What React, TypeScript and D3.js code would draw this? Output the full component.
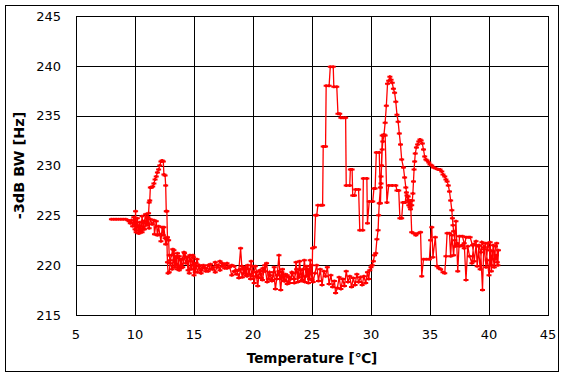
import React from "react";
import * as d3 from "d3";

type P = [number, number];

// Temperature [°C], -3dB BW [Hz] — heating pass
const heatStart: P[] = [
  [8.0,224.6],[8.2,224.6],[8.4,224.6],[8.6,224.6],[8.8,224.6],[9.0,224.6],[9.2,224.6],[9.4,224.5],[9.5,224.4],[9.6,224.2],
  [9.7,224.5],[9.8,223.9],[9.9,224.8],[10.0,223.6],[10.05,225.4],[10.1,223.3],[10.2,224.7],[10.3,223.2],[10.4,224.3],[10.5,223.4],
  [10.6,224.9],[10.7,223.6],[10.8,224.4],[10.9,225.1],[11.0,224.0],[11.1,224.8],[11.2,223.7],[11.3,224.6],[11.45,224.1],[11.6,224.5],
  [11.65,223.1],[11.8,224.4],[11.9,223.0],[12.0,223.9],[12.1,223.1],[12.2,222.4],[12.3,223.8],[12.4,223.0],[12.45,223.8],[12.55,222.7],
  [12.6,222.1],[12.7,222.6],[12.75,220.3],[12.8,219.2],[12.9,219.3],[13.0,220.5],
];

const heatPlateau: P[] = [
  [13.1,221.0],[13.2,221.6],[13.35,219.8],[13.5,220.9],[13.6,219.6],[13.75,220.9],[13.9,219.7],[14.0,220.6],[14.15,221.3],[14.3,220.2],
  [14.45,220.8],[14.6,219.2],[14.75,220.4],[14.9,221.0],[15.0,219.0],[15.15,220.2],[15.3,219.3],[15.45,220.0],[15.6,219.5],[15.8,220.0],
  [16.0,219.7],[16.2,219.4],[16.4,220.1],[16.6,219.6],[16.8,220.3],[17.0,219.8],[17.2,220.4],[17.4,219.9],[17.6,220.1],[17.8,219.7],
  [18.0,219.9],[18.2,219.0],[18.4,219.4],[18.6,219.1],[18.8,219.5],[18.95,221.7],[19.05,219.9],[19.2,219.2],[19.35,219.8],[19.5,218.9],
  [19.65,219.6],[19.8,218.6],[19.95,219.9],[20.1,218.2],[20.25,219.3],[20.4,217.9],[20.55,219.4],[20.7,218.7],[20.85,219.7],[21.0,219.4],
  [21.15,220.2],[21.3,218.6],[21.45,219.0],[21.6,218.4],[21.75,219.3],[21.9,217.6],[22.05,219.0],[22.2,221.0],[22.3,218.6],[22.45,219.3],
  [22.6,218.4],[22.75,219.1],[22.9,218.1],[23.05,218.8],[23.2,218.6],[23.35,219.2],[23.5,218.2],[23.65,220.3],[23.8,218.3],[23.95,220.4],
  [24.1,218.4],[24.25,219.6],[24.4,218.3],[24.55,219.9],[24.7,218.2],[24.85,220.5],[25.0,218.5],
];

const heatPeaks: P[] = [
  [25.05,221.7],[25.2,221.8],[25.3,225.0],[25.4,225.0],[25.5,226.0],[25.75,226.0],[25.9,226.0],[25.95,231.9],[26.15,231.9],[26.2,238.0],
  [26.45,238.0],[26.55,239.9],[26.8,239.9],[26.85,237.9],[27.1,237.9],[27.2,235.2],[27.35,235.2],[27.45,234.8],[27.65,234.8],[27.85,234.8],
  [27.9,228.0],[28.2,228.0],[28.25,229.6],[28.4,229.6],[28.45,227.0],[28.6,227.0],[28.7,227.6],[28.95,227.6],[29.05,223.5],[29.3,223.5],
  [29.35,228.7],[29.65,228.7],[29.7,224.2],[29.85,226.4],[30.15,226.4],[30.25,227.7],[30.35,227.7],[30.45,231.3],[30.7,231.3],[30.8,226.2],
  [30.85,228.2],[30.95,233.0],[31.2,233.0],[31.35,226.3],[31.5,228.0],[31.8,228.0],[32.1,228.0],[32.2,227.5],[32.35,227.5],[32.45,224.7],
  [32.6,224.7],[32.7,226.3],[32.9,226.3],[33.0,227.3],[33.1,226.5],[33.2,226.0],[33.3,225.8],[33.35,226.5],[33.45,223.3],[33.6,223.2],
  [33.8,223.0],[34.0,223.2],[34.2,223.3],[34.3,218.9],[34.45,220.6],[34.7,220.6],[34.95,220.6],[35.05,222.5],[35.15,223.8],[35.25,220.8],
  [35.45,222.8],[35.6,219.9],[35.75,219.7],[35.9,219.6],[36.1,219.3],[36.25,219.2],[36.35,220.9],[36.45,223.2],[36.65,223.2],[36.75,220.9],
  [36.85,223.0],[37.0,221.0],[37.2,224.4],[37.35,219.4],[37.5,222.9],[37.75,222.9],[37.9,222.2],[38.05,218.5],[38.2,221.9],[38.35,220.9],
  [38.55,220.2],[38.7,222.1],[38.9,222.4],[39.0,219.9],[39.15,222.0],[39.3,221.3],[39.45,217.5],[39.55,221.6],[39.7,222.2],[39.85,220.5],
  [40.0,219.0],[40.1,222.3],[40.2,220.0],[40.3,221.4],[40.45,219.8],[40.55,221.9],[40.65,222.2],[40.75,220.0],[40.8,221.5],
];

// cooling pass
const coolHigh: P[] = [
  [40.7,220.3],[40.6,221.0],[40.5,220.6],[40.35,222.0],[40.2,219.4],[40.05,221.5],[39.9,222.2],[39.75,219.8],[39.6,221.8],[39.4,222.3],
  [39.25,219.6],[39.1,221.9],[38.9,222.0],[38.75,220.4],[38.6,222.0],[38.4,222.8],[38.25,222.8],[38.05,222.8],[37.9,221.7],[37.7,222.0],
  [37.5,221.9],[37.3,222.2],[37.15,221.9],[37.1,222.5],[37.0,223.4],[36.95,224.0],[36.9,224.7],[36.85,225.5],[36.75,226.5],[36.65,227.4],
  [36.55,228.0],[36.45,228.4],[36.35,228.6],[36.25,228.9],[36.1,229.1],[36.0,229.4],[35.85,229.6],[35.7,229.6],[35.5,229.7],[35.3,229.8],
  [35.15,230.0],[35.0,230.1],[34.9,230.3],[34.75,230.5],[34.65,230.6],[34.55,230.9],[34.45,231.6],[34.35,232.2],[34.25,232.5],[34.15,232.6],
  [34.05,232.4],[33.95,232.1],[33.85,231.8],[33.75,231.2],[33.7,230.4],[33.65,229.6],[33.6,228.4],[33.55,227.2],[33.5,226.5],[33.45,226.0],
  [33.35,225.6],[33.25,226.4],[33.15,226.9],[33.05,227.0],[32.95,227.8],[32.85,228.8],[32.75,229.8],[32.6,230.6],[32.5,232.1],[32.4,233.2],
  [32.3,234.4],[32.2,235.1],[32.1,236.4],[32.0,237.3],[31.9,237.7],[31.8,238.3],[31.7,238.6],[31.6,238.9],[31.5,238.5],[31.4,238.2],
  [31.3,236.0],[31.2,234.3],[31.1,233.1],[31.0,232.4],[30.95,231.6],[30.9,230.0],[30.85,228.9],[30.8,227.8],[30.7,226.2],[30.65,225.0],
  [30.6,223.5],[30.5,222.6],[30.4,221.2],[30.3,221.0],[30.2,220.4],[30.1,220.0],[30.0,219.8],
];

const coolLow: P[] = [
  [29.9,219.5],[29.8,218.6],[29.7,219.3],[29.55,218.2],[29.4,218.9],[29.25,218.0],[29.1,218.8],[28.95,218.3],[28.8,219.1],[28.65,218.0],
  [28.5,218.7],[28.35,217.8],[28.2,218.9],[28.05,218.3],[27.9,219.4],[27.75,217.9],[27.6,218.6],[27.45,217.6],[27.3,218.8],[27.15,217.7],
  [27.0,217.2],[26.9,218.4],[26.75,217.8],[26.6,219.0],[26.45,218.1],[26.3,219.8],[26.15,218.9],[26.0,219.4],[25.85,218.0],[25.7,219.6],
  [25.55,218.4],[25.4,220.0],[25.25,219.2],[25.1,218.3],[24.95,220.0],[24.8,218.6],[24.65,219.6],[24.5,218.9],[24.35,220.5],[24.2,218.5],
  [24.05,219.5],[23.9,218.8],[23.7,219.6],[23.5,218.6],[23.3,219.3],[23.1,218.2],[22.9,219.0],[22.7,218.4],[22.5,219.6],[22.35,217.5],
  [22.2,219.4],[22.0,218.6],[21.8,219.8],[21.6,218.5],[21.4,219.3],[21.2,218.3],[21.0,220.0],[20.8,218.5],[20.6,219.5],[20.4,218.8],
  [20.2,219.9],[20.0,218.9],[19.85,220.4],[19.7,219.1],[19.55,220.0],[19.4,219.0],[19.25,219.7],[19.1,218.8],[18.95,219.6],[18.8,218.7],
  [18.6,219.5],[18.4,219.9],[18.2,220.0],[18.0,219.8],[17.8,220.2],[17.6,219.7],[17.4,220.2],[17.2,219.5],[17.0,220.0],[16.8,219.3],
  [16.6,219.8],[16.4,219.6],[16.2,220.0],[16.0,219.4],[15.8,219.8],[15.6,219.2],[15.4,219.9],[15.25,220.6],[15.1,219.3],[14.95,220.8],
  [14.8,219.6],[14.65,221.0],[14.5,219.5],[14.35,220.8],[14.2,221.2],[14.05,219.8],[13.9,220.6],[13.75,219.5],[13.6,221.2],[13.45,220.0],
  [13.3,221.5],[13.15,219.6],[13.0,220.2],[12.9,221.0],[12.85,222.5],
];

const coolPeak: P[] = [
  [12.75,222.8],[12.7,225.4],[12.65,225.4],[12.6,228.0],[12.55,229.0],[12.45,229.1],[12.4,230.4],[12.3,230.5],[12.2,230.4],[12.1,230.0],
  [12.0,229.6],[11.9,229.3],[11.8,228.9],[11.7,228.6],[11.6,228.2],[11.5,227.9],[11.4,227.8],[11.3,227.8],[11.25,226.5],[11.2,226.3],
  [11.15,225.2],[11.05,224.8],[10.95,224.2],[10.8,223.6],[10.7,224.4],[10.6,223.3],[10.5,223.9],[10.35,223.2],[10.2,224.0],[10.1,223.5],
  [10.0,224.1],
];

const xTicks = [5, 10, 15, 20, 25, 30, 35, 40, 45];
const yTicks = [215, 220, 225, 230, 235, 240, 245];
const xTitle = "Temperature [℃]";
const yTitle = "-3dB BW [Hz]";

export default function App() {
  const data: P[] = [...heatStart, ...heatPlateau, ...heatPeaks, ...coolHigh, ...coolLow, ...coolPeak];
  const L = 76, R = 548, T = 16, B = 315;
  const x = d3.scaleLinear().domain([5, 45]).range([L, R]);
  const y = d3.scaleLinear().domain([215, 245]).range([B, T]);
  const line = d3.line<P>().x((d) => x(d[0])).y((d) => y(d[1]));
  const font = "'DejaVu Sans', Verdana, sans-serif";
  return (
    <svg
      width={568}
      height={379}
      style={{ position: "absolute", left: 0, top: 0, background: "#fff" }}
      fontFamily={font}
    >
      <rect x={0} y={0} width={568} height={379} fill="#fff" />
      <rect x={5.5} y={5.5} width={553} height={366} fill="none" stroke="#000" strokeWidth={1} />
      <rect x={L} y={T} width={R - L} height={B - T} fill="#fff" />
      {xTicks.map((t) => (
        <line key={"gx" + t} x1={Math.round(x(t)) + 0.5} x2={Math.round(x(t)) + 0.5} y1={T} y2={B} stroke="#000" strokeWidth={1} />
      ))}
      {yTicks.map((t) => (
        <line key={"gy" + t} x1={L} x2={R} y1={Math.round(y(t)) + 0.5} y2={Math.round(y(t)) + 0.5} stroke="#000" strokeWidth={1} />
      ))}
      <rect x={L + 0.5} y={T + 0.5} width={R - L} height={B - T} fill="none" stroke="#000" strokeWidth={1} />
      {yTicks.map((t) => (
        <text key={"ly" + t} x={61} y={y(t)} dy="0.36em" textAnchor="end" fontSize={13} fill="#000">
          {t}
        </text>
      ))}
      {xTicks.map((t) => (
        <text key={"lx" + t} x={x(t)} y={339} textAnchor="middle" fontSize={13} fill="#000">
          {t}
        </text>
      ))}
      <text x={312} y={363} textAnchor="middle" fontSize={13.5} fontWeight="bold" fill="#000">
        {xTitle}
      </text>
      <text
        transform={`translate(24,${(T + B) / 2}) rotate(-90)`}
        textAnchor="middle"
        fontSize={14.5}
        fontWeight="bold"
        fill="#000"
      >
        {yTitle}
      </text>
      <path d={line(data) || ""} fill="none" stroke="#ff0000" strokeWidth={1.3} />
      {data.map((d, i) => (
        <path
          key={"m" + i}
          transform={`translate(${x(d[0])},${y(d[1])})`}
          d="M-2.5,0H2.5M0,-1.5V1.5"
          stroke="#ff0000"
          strokeWidth={2}
          fill="none"
        />
      ))}
    </svg>
  );
}
